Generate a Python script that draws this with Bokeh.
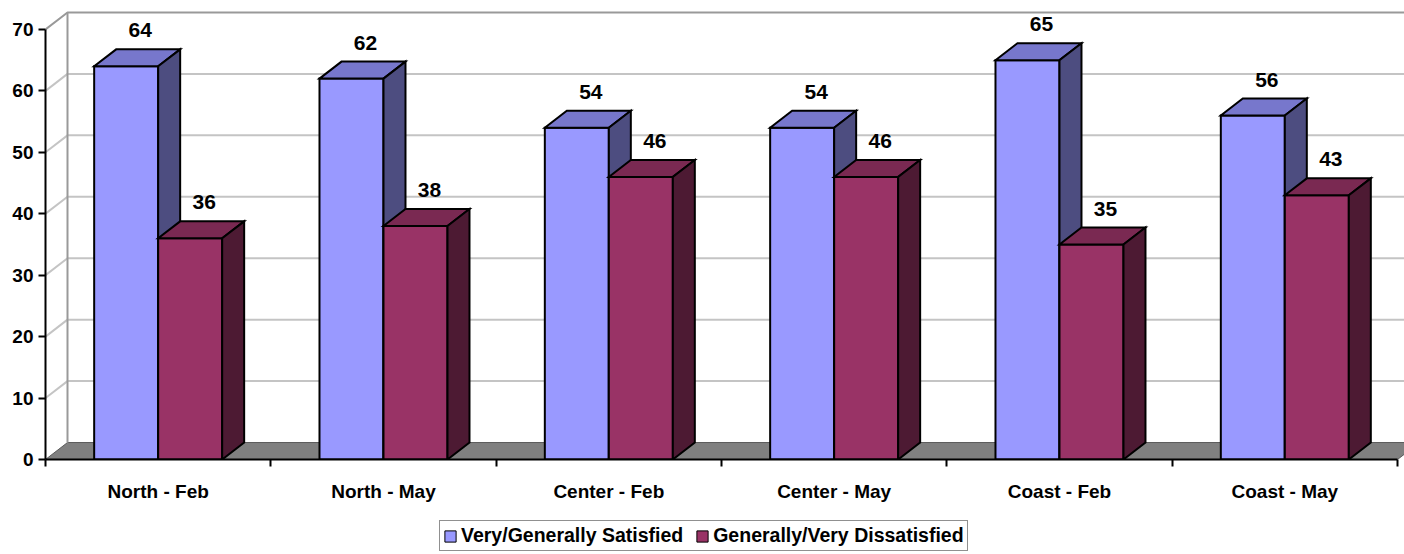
from bokeh.plotting import figure
from bokeh.layouts import column
from bokeh.models import Range1d, FixedTicker, LinearAxis, Legend, LegendItem
from bokeh.embed import file_html
from bokeh.resources import INLINE
from bokeh.core.properties import value

# ---- data -------------------------------------------------------------
categories = ["North - Feb", "North - May", "Center - Feb",
              "Center - May", "Coast - Feb", "Coast - May"]
satisfied = [64, 62, 54, 54, 65, 56]
dissatisfied = [36, 38, 46, 46, 35, 43]
series_names = ["Very/Generally Satisfied", "Generally/Very Dissatisfied"]
y_ticks = [0, 10, 20, 30, 40, 50, 60, 70]

# ---- geometry ---------------------------------------------------------
W = 1404
CHART_H, LEGEND_H = 504, 50
LEFT, BOTTOM = 45, 44
FRAME_W, FRAME_H = W - LEFT, CHART_H - BOTTOM
PX_PER_CAT = 225.33          # horizontal pixels per category slot
PX_PER_UNIT = 431 / 70.0     # vertical pixels per value unit
X_END = FRAME_W / PX_PER_CAT
Y_END = FRAME_H / PX_PER_UNIT
DX = 22 / PX_PER_CAT         # 3-D depth, horizontal part
DY = 17 / PX_PER_UNIT        # 3-D depth, vertical part
BAR_W = 64 / PX_PER_CAT
Y_MAX = y_ticks[-1]
N = len(categories)

FONT = "Liberation Sans"
COLORS = [("#9999FF", "#7777CC", "#4D4D80"),   # front, top, side
          ("#993366", "#7A2952", "#4D1A33")]

p = figure(width=W, height=CHART_H, x_range=Range1d(0, X_END), y_range=Range1d(0, Y_END),
           output_backend="svg", toolbar_location=None,
           x_axis_type=None, y_axis_type=None,
           min_border_left=LEFT, min_border_bottom=BOTTOM,
           min_border_top=0, min_border_right=0)
p.outline_line_color = None
p.background_fill_color = "white"
p.border_fill_color = "white"

# ---- walls and floor --------------------------------------------------
p.patch([0, N, N + DX, DX], [0, 0, DY, DY],
        fill_color="#808080", line_color="#5A5A5A", line_width=1)

grid_vals = [v for v in y_ticks if 0 < v < Y_MAX]
p.segment(x0=[0] * len(grid_vals), y0=grid_vals,
          x1=[DX] * len(grid_vals), y1=[v + DY for v in grid_vals],
          line_color="#C4C4C4", line_width=2)
p.segment(x0=[DX] * len(grid_vals), y0=[v + DY for v in grid_vals],
          x1=[X_END] * len(grid_vals), y1=[v + DY for v in grid_vals],
          line_color="#C4C4C4", line_width=2)
# wall border
p.line([0, DX, X_END], [Y_MAX, Y_MAX + DY, Y_MAX + DY],
       line_color="#999999", line_width=2)
p.line([DX, DX], [DY, Y_MAX + DY], line_color="#999999", line_width=2)

# ---- 3-D bars ---------------------------------------------------------
for s, vals in enumerate([satisfied, dissatisfied]):
    front_c, top_c, side_c = COLORS[s]
    lefts = [i + 0.5 - BAR_W + s * BAR_W for i in range(N)]
    rights = [l + BAR_W for l in lefts]
    p.quad(left=lefts, right=rights, bottom=[0] * N, top=vals,
           fill_color=front_c, line_color="black", line_width=2,
           line_join="miter")
    p.patches(xs=[[l, rt, rt + DX, l + DX] for l, rt in zip(lefts, rights)],
              ys=[[v, v, v + DY, v + DY] for v in vals],
              fill_color=top_c, line_color="black", line_width=2, line_join="miter")
    p.patches(xs=[[rt, rt + DX, rt + DX, rt] for rt in rights],
              ys=[[0, DY, v + DY, v] for v in vals],
              fill_color=side_c, line_color="black", line_width=2, line_join="miter")
    p.text(x=[l + BAR_W / 2 + DX / 2 + 3 / PX_PER_CAT for l in lefts],
           y=[v + DY + 19 / PX_PER_UNIT for v in vals],
           text=[str(v) for v in vals],
           text_align="center", text_baseline="middle",
           text_font=value(FONT), text_font_style="bold",
           text_font_size="21px", text_color="black")

# ---- axes -------------------------------------------------------------
yaxis = LinearAxis(ticker=FixedTicker(ticks=y_ticks), bounds=(0, Y_MAX))
yaxis.axis_line_width = 2
yaxis.axis_line_color = "black"
yaxis.major_tick_out = 7
yaxis.major_tick_in = 0
yaxis.major_tick_line_width = 2
yaxis.minor_tick_out = 0
yaxis.minor_tick_in = 0
yaxis.major_label_standoff = 5
yaxis.major_label_text_font = FONT
yaxis.major_label_text_font_style = "bold"
yaxis.major_label_text_font_size = "19px"
yaxis.major_label_text_color = "black"
p.add_layout(yaxis, "left")

centers = [i + 0.5 for i in range(N)]
xaxis = LinearAxis(ticker=FixedTicker(ticks=centers, minor_ticks=list(range(N + 1))),
                   bounds=(0, N))
xaxis.major_label_overrides = {c: name for c, name in zip(centers, categories)}
xaxis.axis_line_width = 2
xaxis.axis_line_color = "black"
xaxis.major_tick_out = 0
xaxis.major_tick_in = 0
xaxis.minor_tick_out = 7
xaxis.minor_tick_in = 0
xaxis.minor_tick_line_width = 2
xaxis.major_label_standoff = 14
xaxis.major_label_text_font = FONT
xaxis.major_label_text_font_style = "bold"
xaxis.major_label_text_font_size = "19px"
xaxis.major_label_text_color = "black"
p.add_layout(xaxis, "below")

# ---- legend strip -----------------------------------------------------
lg = figure(width=W, height=LEGEND_H, x_range=Range1d(0, W), y_range=Range1d(0, LEGEND_H),
            output_backend="svg", toolbar_location=None,
            x_axis_type=None, y_axis_type=None,
            min_border=0)
lg.outline_line_color = None
lg.background_fill_color = "white"
lg.border_fill_color = "white"

# swatch renderers parked outside the visible range; only their legend glyphs show
swatches = [lg.quad(left=[-30], right=[-20], bottom=[0], top=[10],
                    fill_color=COLORS[k][0], line_color="black", line_width=1)
            for k in range(2)]
legend = Legend(items=[LegendItem(label=series_names[k], renderers=[swatches[k]])
                       for k in range(2)],
                orientation="horizontal", location=(394, 3))
legend.label_text_font = FONT
legend.label_text_font_style = "bold"
legend.label_text_font_size = "19.5px"
legend.label_text_color = "black"
legend.glyph_width = 14
legend.glyph_height = 14
legend.label_standoff = 4
legend.spacing = 12
legend.padding = 3
legend.margin = 0
legend.border_line_color = "#222222"
legend.border_line_width = 1.5
legend.background_fill_color = "white"
lg.add_layout(legend, "center")

layout = column(p, lg, spacing=0)
open("out.html", "w").write(file_html(layout, INLINE))
